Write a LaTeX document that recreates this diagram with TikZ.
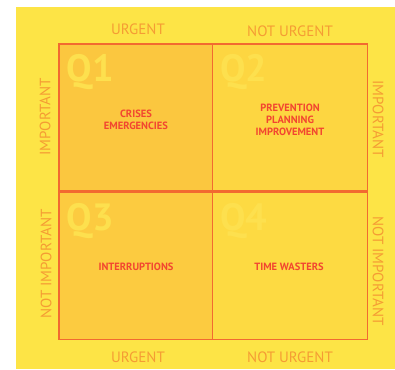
\documentclass[tikz,border=0pt]{standalone}
\usepackage{xcolor}
\usepackage{fontspec}
\setmainfont{PT Sans}
\usetikzlibrary{positioning}
\definecolor{BgYel}{RGB}{253,228,70}
\definecolor{LineOr}{RGB}{242,106,48}
\definecolor{AxisOr}{RGB}{245,156,52}
\definecolor{TaskRed}{RGB}{242,70,48}
\definecolor{QMark}{RGB}{253,224,78}
\definecolor{QoneF}{RGB}{251,199,63}
\definecolor{QtwoF}{RGB}{253,214,65}
\definecolor{QthreeF}{RGB}{252,203,64}
\definecolor{QfourF}{RGB}{253,218,66}
\begin{document}
\begin{tikzpicture}[x=1pt,y=-1pt,
  quad/.style={draw=LineOr,line width=1.3pt,minimum width=155pt,minimum height=147pt,inner sep=0pt},
  qmark/.style={font=\fontsize{38}{38}\selectfont\bfseries,text=QMark,anchor=north west,inner sep=0pt},
  task/.style={font=\fontsize{10.5}{12}\selectfont\bfseries,text=TaskRed,align=center},
  axis/.style={font=\fontsize{15}{15}\selectfont,text=AxisOr,inner sep=0pt}]
\useasboundingbox(0,0)rectangle(395,369);
\fill[BgYel](16,7)rectangle(395,369);
% quadrants
\foreach \n/\cx/\cy/\col in {q1/136.5/117.5/QoneF,q2/290/117.5/QtwoF,q3/136.5/266/QthreeF,q4/290/266/QfourF}{
  \node[quad,fill=\col](\n)at(\cx,\cy){};
}
\foreach \n/\l in {q1/Q1,q2/Q2,q3/Q3,q4/Q4}{
  \node[qmark](\n-mark)at([xshift=8pt,yshift=-11pt]\n.north west){\l};
}
% tasks
\node[task](t1)at(136,120){CRISES\\EMERGENCIES};
\node[task](t2)at(290,119.5){PREVENTION\\PLANNING\\IMPROVEMENT};
\node[task](t3)at(136,267){INTERRUPTIONS};
\node[task](t4)at(289,267){TIME WASTERS};
% axis labels
\node[axis](urg-t)at(138,29){URGENT};
\node[axis](nurg-t)at(290,31){NOT URGENT};
\node[axis](urg-b)at(138,357){URGENT};
\node[axis](nurg-b)at(290,357){NOT URGENT};
\node[axis,rotate=90](imp-l)at(45,117){IMPORTANT};
\node[axis,rotate=90](nimp-l)at(46,264){NOT IMPORTANT};
\node[axis,rotate=-90](imp-r)at(378,119){IMPORTANT};
\node[axis,rotate=-90](nimp-r)at(378,271){NOT IMPORTANT};
\end{tikzpicture}
\end{document}
